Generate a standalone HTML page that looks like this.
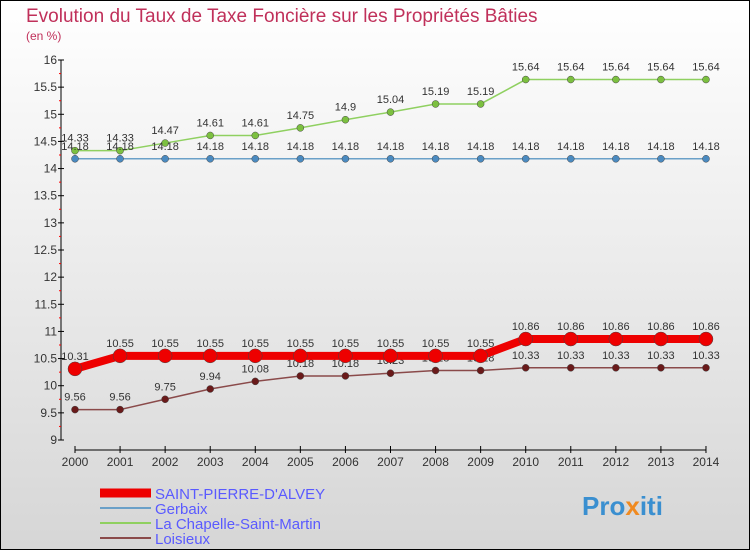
<!DOCTYPE html>
<html><head><meta charset="utf-8"><style>
body{margin:0}
#c{width:750px;height:550px;position:relative;overflow:hidden}
text{font-family:"Liberation Sans",sans-serif}
</style></head><body>
<div id="c">
<svg id="s" width="750" height="550" xmlns="http://www.w3.org/2000/svg">
<defs><linearGradient id="bg" x1="0" y1="0" x2="0" y2="1"><stop offset="0" stop-color="#ffffff"/><stop offset="1" stop-color="#d6d6d6"/></linearGradient></defs>
<rect x="0.5" y="0.5" width="749" height="549" fill="url(#bg)" stroke="#000"/>
<text x="26" y="22" font-size="19" fill="#c0305a">Evolution du Taux de Taxe Foncière sur les Propriétés Bâties</text>
<text x="26" y="40" font-size="12" fill="#c0305a">(en %)</text>
<g id="axes"></g><g id="series"></g>
<g>
<line x1="100" y1="493" x2="151" y2="493" stroke="#e00" stroke-width="9"/>
<text x="155" y="499" font-size="15" fill="#5a5aff">SAINT-PIERRE-D'ALVEY</text>
<line x1="100" y1="508" x2="151" y2="508" stroke="#6aa0c8" stroke-width="2"/>
<text x="155" y="514" font-size="15" fill="#5a5aff">Gerbaix</text>
<line x1="100" y1="523" x2="151" y2="523" stroke="#8fd060" stroke-width="2"/>
<text x="155" y="529" font-size="15" fill="#5a5aff">La Chapelle-Saint-Martin</text>
<line x1="100" y1="538" x2="151" y2="538" stroke="#8a4a4a" stroke-width="2"/>
<text x="155" y="544" font-size="15" fill="#5a5aff">Loisieux</text>
</g>
<text x="582" y="515" font-size="26" font-weight="bold" fill="#3a8fd0">Pro<tspan fill="#f08a20">x</tspan>iti</text>
</svg></div>
<script>
const years=[2000,2001,2002,2003,2004,2005,2006,2007,2008,2009,2010,2011,2012,2013,2014];
const yTicks=[9,9.5,10,10.5,11,11.5,12,12.5,13,13.5,14,14.5,15,15.5,16];
const saint=[10.31,10.55,10.55,10.55,10.55,10.55,10.55,10.55,10.55,10.55,10.86,10.86,10.86,10.86,10.86];
const gerbaix=[14.18,14.18,14.18,14.18,14.18,14.18,14.18,14.18,14.18,14.18,14.18,14.18,14.18,14.18,14.18];
const chapelle=[14.33,14.33,14.47,14.61,14.61,14.75,14.9,15.04,15.19,15.19,15.64,15.64,15.64,15.64,15.64];
const loisieux=[9.56,9.56,9.75,9.94,10.08,10.18,10.18,10.23,10.28,10.28,10.33,10.33,10.33,10.33,10.33];
const NS="http://www.w3.org/2000/svg";
const X=i=>75+i*45.07, Y=v=>440-(v-9)*(380/7);
function mk(t,a,p){const e=document.createElementNS(NS,t);for(const k in a)e.setAttribute(k,a[k]);p.appendChild(e);return e;}
const ax=document.getElementById('axes');
mk('line',{x1:61,y1:60,x2:61,y2:440,stroke:'#000'},ax);
mk('line',{x1:75,y1:450,x2:706,y2:450,stroke:'#000'},ax);
yTicks.forEach(v=>{
 mk('line',{x1:58,y1:Y(v),x2:64,y2:Y(v),stroke:'#000'},ax);
 if(v<16) mk('line',{x1:59,y1:Y(v+0.25),x2:61,y2:Y(v+0.25),stroke:'#f00'},ax);
 const t=mk('text',{x:57,y:Y(v)+4,'font-size':12,fill:'#333','text-anchor':'end'},ax);t.textContent=String(v);
 
 
});
years.forEach((y,i)=>{
 mk('line',{x1:X(i),y1:446,x2:X(i),y2:453,stroke:'#000'},ax);
 const t=mk('text',{x:X(i),y:466,'font-size':12,fill:'#333','text-anchor':'middle'},ax);t.textContent=y;
 
 
});
const sg=document.getElementById('series');
function series(name,vals,col,w,r,dot){
 const g=mk('g',{},sg);
 
 
 mk('polyline',{points:vals.map((v,i)=>X(i)+','+Y(v)).join(' '),fill:'none',stroke:col,'stroke-width':w},g);
 vals.forEach((v,i)=>{
  const c=mk('circle',{cx:X(i),cy:Y(v),r:r,fill:dot,stroke:'#444','stroke-width':0.5},g);
  
  
  const t=mk('text',{x:X(i),y:Y(v)-9,'font-size':11,fill:'#333','text-anchor':'middle'},g);t.textContent=String(v);
  
  
 });
}
series('loisieux',loisieux,'#8a4a4a',1.5,3.5,'#6a1a1a');
series('chapelle',chapelle,'#8fd060',1.5,3.5,'#7cc040');
series('gerbaix',gerbaix,'#6aa0c8',1.5,3.5,'#4a8ac0');
series('saint-pierre',saint,'#ee0000',8,7,'#ee0000');
</script>
</body></html>
